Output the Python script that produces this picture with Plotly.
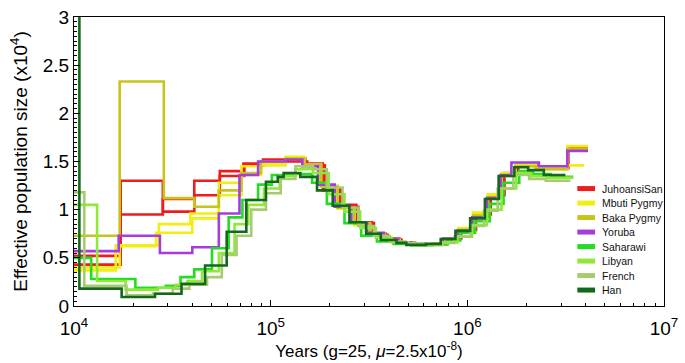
import plotly.graph_objects as go

# ---------------- data (years, effective population size x10^4) ----------------
populations = ["JuhoansiSan", "Mbuti Pygmy", "Baka Pygmy", "Yoruba",
               "Saharawi", "Libyan", "French", "Han"]
colors = ["#ee1c1c", "#f2ee14", "#c9c31e", "#a43ce0",
          "#22dd22", "#8eea36", "#a7cc70", "#13691b"]

juhoansi_a_years = [10000, 17265, 28300, 40890, 55140, 73506, 92469, 119100, 149890, 184350, 224100, 272520, 327500,
                    384660, 451800, 530680, 652870, 766720, 911110, 1082500, 1286300, 1510800, 1774500, 2233500,
                    3226500, 4107100]
juhoansi_a_ne = [0.52, 1.30, 0.98, 1.15, 1.35, 1.46, 1.49, 1.53, 1.48, 1.20, 1.05, 0.87, 0.75, 0.70, 0.66, 0.64, 0.64,
                 0.69, 0.78, 0.93, 1.13, 1.36, 1.47, 1.44, 1.64, 1.64]

juhoansi_b_years = [10000, 17265, 28300, 40890, 55140, 72666, 91412, 121870, 153380, 188630, 229310, 278850, 335110,
                    393600, 462310, 543010, 668040, 784560, 932290, 1107600, 1316200, 1545900, 1815800, 2285500,
                    3263800, 4013700]
juhoansi_b_ne = [0.43, 0.95, 1.11, 1.30, 1.40, 1.48, 1.52, 1.50, 1.46, 1.22, 1.03, 0.86, 0.74, 0.69, 0.655, 0.64, 0.645,
                 0.70, 0.79, 0.95, 1.15, 1.38, 1.46, 1.43, 1.62, 1.62]

mbuti_a_years = [10000, 16301, 27028, 39053, 54509, 71016, 89334, 119100, 148180, 180160, 219010, 266330, 320060,
                 380260, 451800, 530680, 652870, 766720, 900700, 1070100, 1271600, 1493500, 1754300, 2233500,
                 3226500, 4107100]
mbuti_a_ne = [0.37, 0.63, 0.85, 0.96, 1.28, 1.45, 1.48, 1.55, 1.46, 1.25, 1.02, 0.85, 0.74, 0.69, 0.655, 0.635, 0.64,
              0.70, 0.80, 0.96, 1.15, 1.38, 1.47, 1.44, 1.66, 1.66]

mbuti_b_years = [10000, 17068, 26113, 39961, 54509, 71016, 89334, 119100, 148180, 180160, 219010, 266330, 320060,
                 380260, 451800, 530680, 652870, 766720, 900700, 1070100, 1271600, 1493500, 1754300, 2233500,
                 3226500, 3922500]
mbuti_b_ne = [0.40, 0.62, 0.76, 0.91, 1.15, 1.36, 1.46, 1.54, 1.47, 1.24, 1.01, 0.84, 0.74, 0.68, 0.65, 0.635, 0.645,
              0.70, 0.81, 0.97, 1.16, 1.37, 1.45, 1.42, 1.46, 1.46]

baka_years = [10000, 17068, 28628, 40890, 54509, 71016, 89334, 119100, 148180, 180160, 219010, 266330, 320060,
              380260, 451800, 530680, 652870, 766720, 900700, 1070100, 1271600, 1493500, 1754300, 2233500,
              3226500, 4107100]
baka_ne = [0.73, 2.33, 1.12, 1.03, 1.20, 1.38, 1.50, 1.53, 1.47, 1.24, 1.02, 0.86, 0.75, 0.69, 0.66, 0.64, 0.64,
           0.69, 0.79, 0.94, 1.13, 1.35, 1.45, 1.42, 1.63, 1.63]

yoruba_years = [10000, 16873, 27341, 39961, 54509, 69402, 86306, 119100, 144810, 174050, 211590, 257310, 309210,
                375920, 446640, 518620, 638030, 749300, 890410, 1057900, 1257100, 1476500, 1675500, 2311900,
                3226500, 4107100]
yoruba_ne = [0.57, 0.73, 0.55, 0.61, 0.96, 1.36, 1.50, 1.52, 1.45, 1.26, 1.03, 0.87, 0.76, 0.69, 0.66, 0.64, 0.64,
             0.70, 0.78, 0.92, 1.12, 1.36, 1.49, 1.45, 1.61, 1.61]

saharawi_years = [10000, 12229, 20512, 29294, 34805, 40890, 50290, 61146, 71836, 86306, 101390, 133620, 162450,
                  193010, 237350, 288630, 346870, 421690, 518620, 668040, 793620, 921640, 1095000, 1301200,
                  1528200, 1836700, 2157700, 2653500, 3456700]
saharawi_ne = [0.50, 0.28, 0.19, 0.21, 0.30, 0.38, 0.60, 0.92, 1.10, 1.26, 1.36, 1.37, 1.28, 1.06, 0.86, 0.73, 0.67,
               0.645, 0.63, 0.64, 0.68, 0.76, 0.88, 1.06, 1.28, 1.40, 1.37, 1.34, 1.34]

libyan_years = [10000, 13104, 18290, 26720, 32863, 37730, 44829, 54509, 65527, 76963, 92469, 111160, 133620, 164330,
                197500, 237350, 285330, 342910, 412110, 501050, 630750, 749300, 890410, 1057900, 1257100, 1493500,
                1774500, 2109000, 2534300, 3456700]
libyan_ne = [1.05, 0.26, 0.17, 0.19, 0.22, 0.26, 0.36, 0.55, 0.85, 1.05, 1.22, 1.35, 1.42, 1.38, 1.16, 0.98, 0.81,
             0.71, 0.66, 0.64, 0.635, 0.66, 0.72, 0.84, 1.00, 1.22, 1.38, 1.35, 1.33, 1.33]

french_years = [10000, 11283, 18501, 25228, 31749, 38607, 47482, 56422, 67050, 79663, 94619, 112450, 133620, 164330,
                193010, 231960, 278850, 335110, 402750, 484060, 609380, 732280, 860250, 1033900, 1214500, 1426500,
                1714400, 2061100, 2505400, 3339600]
french_ne = [1.18, 0.21, 0.11, 0.13, 0.18, 0.22, 0.30, 0.53, 0.73, 1.00, 1.17, 1.32, 1.45, 1.42, 1.23, 1.02, 0.83,
             0.73, 0.67, 0.65, 0.635, 0.655, 0.72, 0.83, 0.99, 1.22, 1.36, 1.32, 1.30, 1.30]

han_years = [10000, 10650, 17470, 25820, 35210, 46400, 59760, 75210, 94620, 108640, 116390, 141520, 172060, 206780,
             251460, 305680, 363180, 436490, 489660, 616420, 732280, 870180, 1033900, 1228500, 1442900, 1734200,
             2037600, 2448500, 3153200]
han_ne = [3.5, 0.18, 0.093, 0.127, 0.23, 0.42, 0.77, 1.10, 1.29, 1.34, 1.38, 1.34, 1.20, 1.04, 0.87, 0.75, 0.685,
          0.655, 0.635, 0.645, 0.695, 0.78, 0.91, 1.11, 1.35, 1.44, 1.41, 1.36, 1.36]

# (population index, years, Ne)
curves = [
    (0, juhoansi_a_years, juhoansi_a_ne),
    (0, juhoansi_b_years, juhoansi_b_ne),
    (1, mbuti_a_years, mbuti_a_ne),
    (1, mbuti_b_years, mbuti_b_ne),
    (2, baka_years, baka_ne),
    (3, yoruba_years, yoruba_ne),
    (4, saharawi_years, saharawi_ne),
    (5, libyan_years, libyan_ne),
    (6, french_years, french_ne),
    (7, han_years, han_ne),
]

x_tick_vals = [1e4, 1e5, 1e6, 1e7]
x_tick_text = ["10<sup>4</sup>", "10<sup>5</sup>", "10<sup>6</sup>", "10<sup>7</sup>"]
x_minor_vals = [m * 10 ** e for e in (4, 5, 6) for m in range(2, 10)]

FONT = "Liberation Sans, Arial, sans-serif"

fig = go.Figure()
for pop, xs, ys in curves:
    fig.add_trace(go.Scatter(
        x=xs, y=ys, mode="lines", line=dict(color=colors[pop], width=2.6, shape="hv"),
        name=populations[pop], showlegend=False, hoverinfo="skip"))

# legend drawn as short thick swatches + labels (paper coordinates)
ML, MR, MT, MB = 74, 12, 7, 57
W, H = 685, 363
pw, ph = W - ML - MR, H - MT - MB
for i, (name, col) in enumerate(zip(populations, colors)):
    ypx = 184.5 + 15 * i
    yp = (H - MB - ypx) / ph
    fig.add_shape(type="line", xref="paper", yref="paper",
                  x0=(585 - ML) / pw, x1=(603 - ML) / pw, y0=yp, y1=yp,
                  line=dict(color=col, width=5))
    fig.add_annotation(xref="paper", yref="paper", x=(608 - ML) / pw, y=yp,
                       text=name, showarrow=False, xanchor="left", yanchor="middle",
                       font=dict(family=FONT, size=10.5, color="#111"))

fig.update_layout(
    width=W, height=H,
    margin=dict(l=ML, r=MR, t=MT, b=MB),
    paper_bgcolor="white", plot_bgcolor="white",
    showlegend=False,
    font=dict(family=FONT, color="black"),
)
fig.update_xaxes(
    type="log", range=[4, 7],
    tickmode="array", tickvals=x_tick_vals, ticktext=x_tick_text,
    ticks="inside", ticklen=6, tickwidth=1, tickcolor="black",
    minor=dict(tickmode="array", tickvals=x_minor_vals, ticks="inside", ticklen=3, tickcolor="black"),
    showline=True, linecolor="black", linewidth=1, mirror=True,
    showgrid=False, zeroline=False, ticklabeloverflow="allow",
    ticklabelstandoff=5,
    tickfont=dict(size=19, family=FONT),
    title=dict(text="Years (g=25, <i>μ</i>=2.5x10<sup>-8</sup>)", font=dict(size=17, family=FONT), standoff=2),
)
fig.update_yaxes(
    range=[0, 3], dtick=0.5, tick0=0,
    ticks="inside", ticklen=6, tickwidth=1, tickcolor="black",
    minor=dict(dtick=0.05, ticks="inside", ticklen=3, tickcolor="black"),
    showline=True, linecolor="black", linewidth=1, mirror=True,
    showgrid=False, zeroline=False, ticklabeloverflow="allow",
    tickfont=dict(size=19, family=FONT),
    title=dict(text="Effective population size (x10<sup>4</sup>)", font=dict(size=19, family=FONT), standoff=10),
)

fig.write_html("out.html", config={"displayModeBar": False},
               post_script="document.body.style.margin='0';")
